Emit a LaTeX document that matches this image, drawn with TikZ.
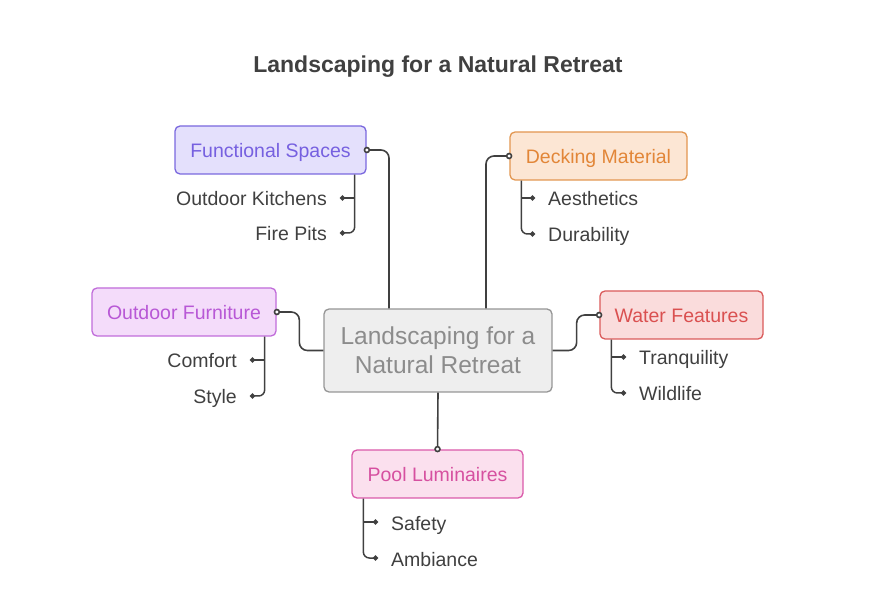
\documentclass[tikz,border=0pt]{standalone}
\usepackage{fontspec}
\setmainfont{Liberation Sans}
\usetikzlibrary{positioning, arrows.meta}

\definecolor{ink}{RGB}{64,64,64}
\definecolor{hubfill}{RGB}{238,238,238}
\definecolor{hubline}{RGB}{150,150,150}
\definecolor{hubtext}{RGB}{140,140,140}
\definecolor{fsfill}{RGB}{228,224,252}
\definecolor{fsline}{RGB}{122,104,222}
\definecolor{fstext}{RGB}{118,96,224}
\definecolor{dmfill}{RGB}{252,230,212}
\definecolor{dmline}{RGB}{226,150,80}
\definecolor{dmtext}{RGB}{226,134,56}
\definecolor{offill}{RGB}{244,220,250}
\definecolor{ofline}{RGB}{192,108,218}
\definecolor{oftext}{RGB}{184,88,214}
\definecolor{wffill}{RGB}{250,220,220}
\definecolor{wfline}{RGB}{218,90,90}
\definecolor{wftext}{RGB}{218,80,80}
\definecolor{plfill}{RGB}{251,224,238}
\definecolor{plline}{RGB}{218,90,170}
\definecolor{pltext}{RGB}{214,80,160}

\begin{document}
\begin{tikzpicture}[
    x=1pt, y=-1pt,
    font=\fontsize{19.5}{23}\selectfont,
    hub/.style={rectangle, rounded corners=5pt, draw=hubline, fill=hubfill, text=hubtext, line width=1.3pt, minimum width=228pt, minimum height=83pt, align=center, font=\fontsize{24.5}{29}\selectfont},
    topic/.style={rectangle, rounded corners=5pt, line width=1.3pt, minimum height=48pt, inner sep=0pt, text height=17pt, text depth=1pt},
    leaf/.style={text=ink, inner ysep=0pt, inner xsep=13pt, text height=17pt, text depth=1pt},
    link/.style={draw=ink, line width=1.6pt, rounded corners=8pt},
    hook/.style={link, {Circle[fill=white, length=6.5pt]}-},
    twig/.style={draw=ink, line width=1.5pt, rounded corners=6pt, -{Circle[length=5pt]}}
]
\useasboundingbox (0,0) rectangle (876,593);

\node[font=\fontsize{23}{27}\selectfont\bfseries, text=ink] (title) at (438,67) {Landscaping for a Natural Retreat};

\node[hub] (hub) at (438,350.5) {Landscaping for a\\ Natural Retreat};

\node[topic, draw=fsline, fill=fsfill, text=fstext, minimum width=191pt] (fs) at (270.5,150) {Functional Spaces};
\node[topic, draw=dmline, fill=dmfill, text=dmtext, minimum width=177pt] (dm) at (598.5,156) {Decking Material};
\node[topic, draw=ofline, fill=offill, text=oftext, minimum width=184pt] (of) at (184,312) {Outdoor Furniture};
\node[topic, draw=wfline, fill=wffill, text=wftext, minimum width=163pt] (wf) at (681.5,315) {Water Features};
\node[topic, draw=plline, fill=plfill, text=pltext, minimum width=171pt] (pl) at (437.5,474) {Pool Luminaires};

% leaves
\node[leaf, anchor=east] (ok) at (340,198) {Outdoor Kitchens};
\node[leaf, anchor=east] (fp) at (340,233) {Fire Pits};
\node[leaf, anchor=west] (aes) at (535,198) {Aesthetics};
\node[leaf, anchor=west] (dur) at (535,234) {Durability};
\node[leaf, anchor=east] (com) at (250,360) {Comfort};
\node[leaf, anchor=east] (sty) at (250,396) {Style};
\node[leaf, anchor=west] (tra) at (626,357) {Tranquility};
\node[leaf, anchor=west] (wil) at (626,393) {Wildlife};
\node[leaf, anchor=west] (saf) at (378,522) {Safety};
\node[leaf, anchor=west] (amb) at (378,558) {Ambiance};

% hub links
\draw[hook] ([xshift=-3pt]fs.east) -| ([xshift=-49pt]hub.north);
\draw[hook] ([xshift=3pt]dm.west) -| ([xshift=48pt]hub.north);
\draw[hook] ([xshift=-3pt]of.east) -| ([xshift=-24pt]hub.west) -- (hub.west);
\draw[hook] ([xshift=3pt]wf.west) -| ([xshift=24pt]hub.east) -- (hub.east);
\draw[link, -{Circle[fill=white, length=6.5pt]}] (hub.south) -- ([yshift=-3pt]pl.north);

% twigs
\draw[twig, sharp corners] ([xshift=-12pt]fs.south east) |- (ok.east);
\draw[twig] ([xshift=-12pt]fs.south east) |- (fp.east);
\draw[twig, sharp corners] ([xshift=12pt]dm.south west) |- (aes.west);
\draw[twig] ([xshift=12pt]dm.south west) |- (dur.west);
\draw[twig, sharp corners] ([xshift=-12pt]of.south east) |- (com.east);
\draw[twig] ([xshift=-12pt]of.south east) |- (sty.east);
\draw[twig, sharp corners] ([xshift=12pt]wf.south west) |- (tra.west);
\draw[twig] ([xshift=12pt]wf.south west) |- (wil.west);
\draw[twig, sharp corners] ([xshift=12pt]pl.south west) |- (saf.west);
\draw[twig] ([xshift=12pt]pl.south west) |- (amb.west);
\end{tikzpicture}
\end{document}
